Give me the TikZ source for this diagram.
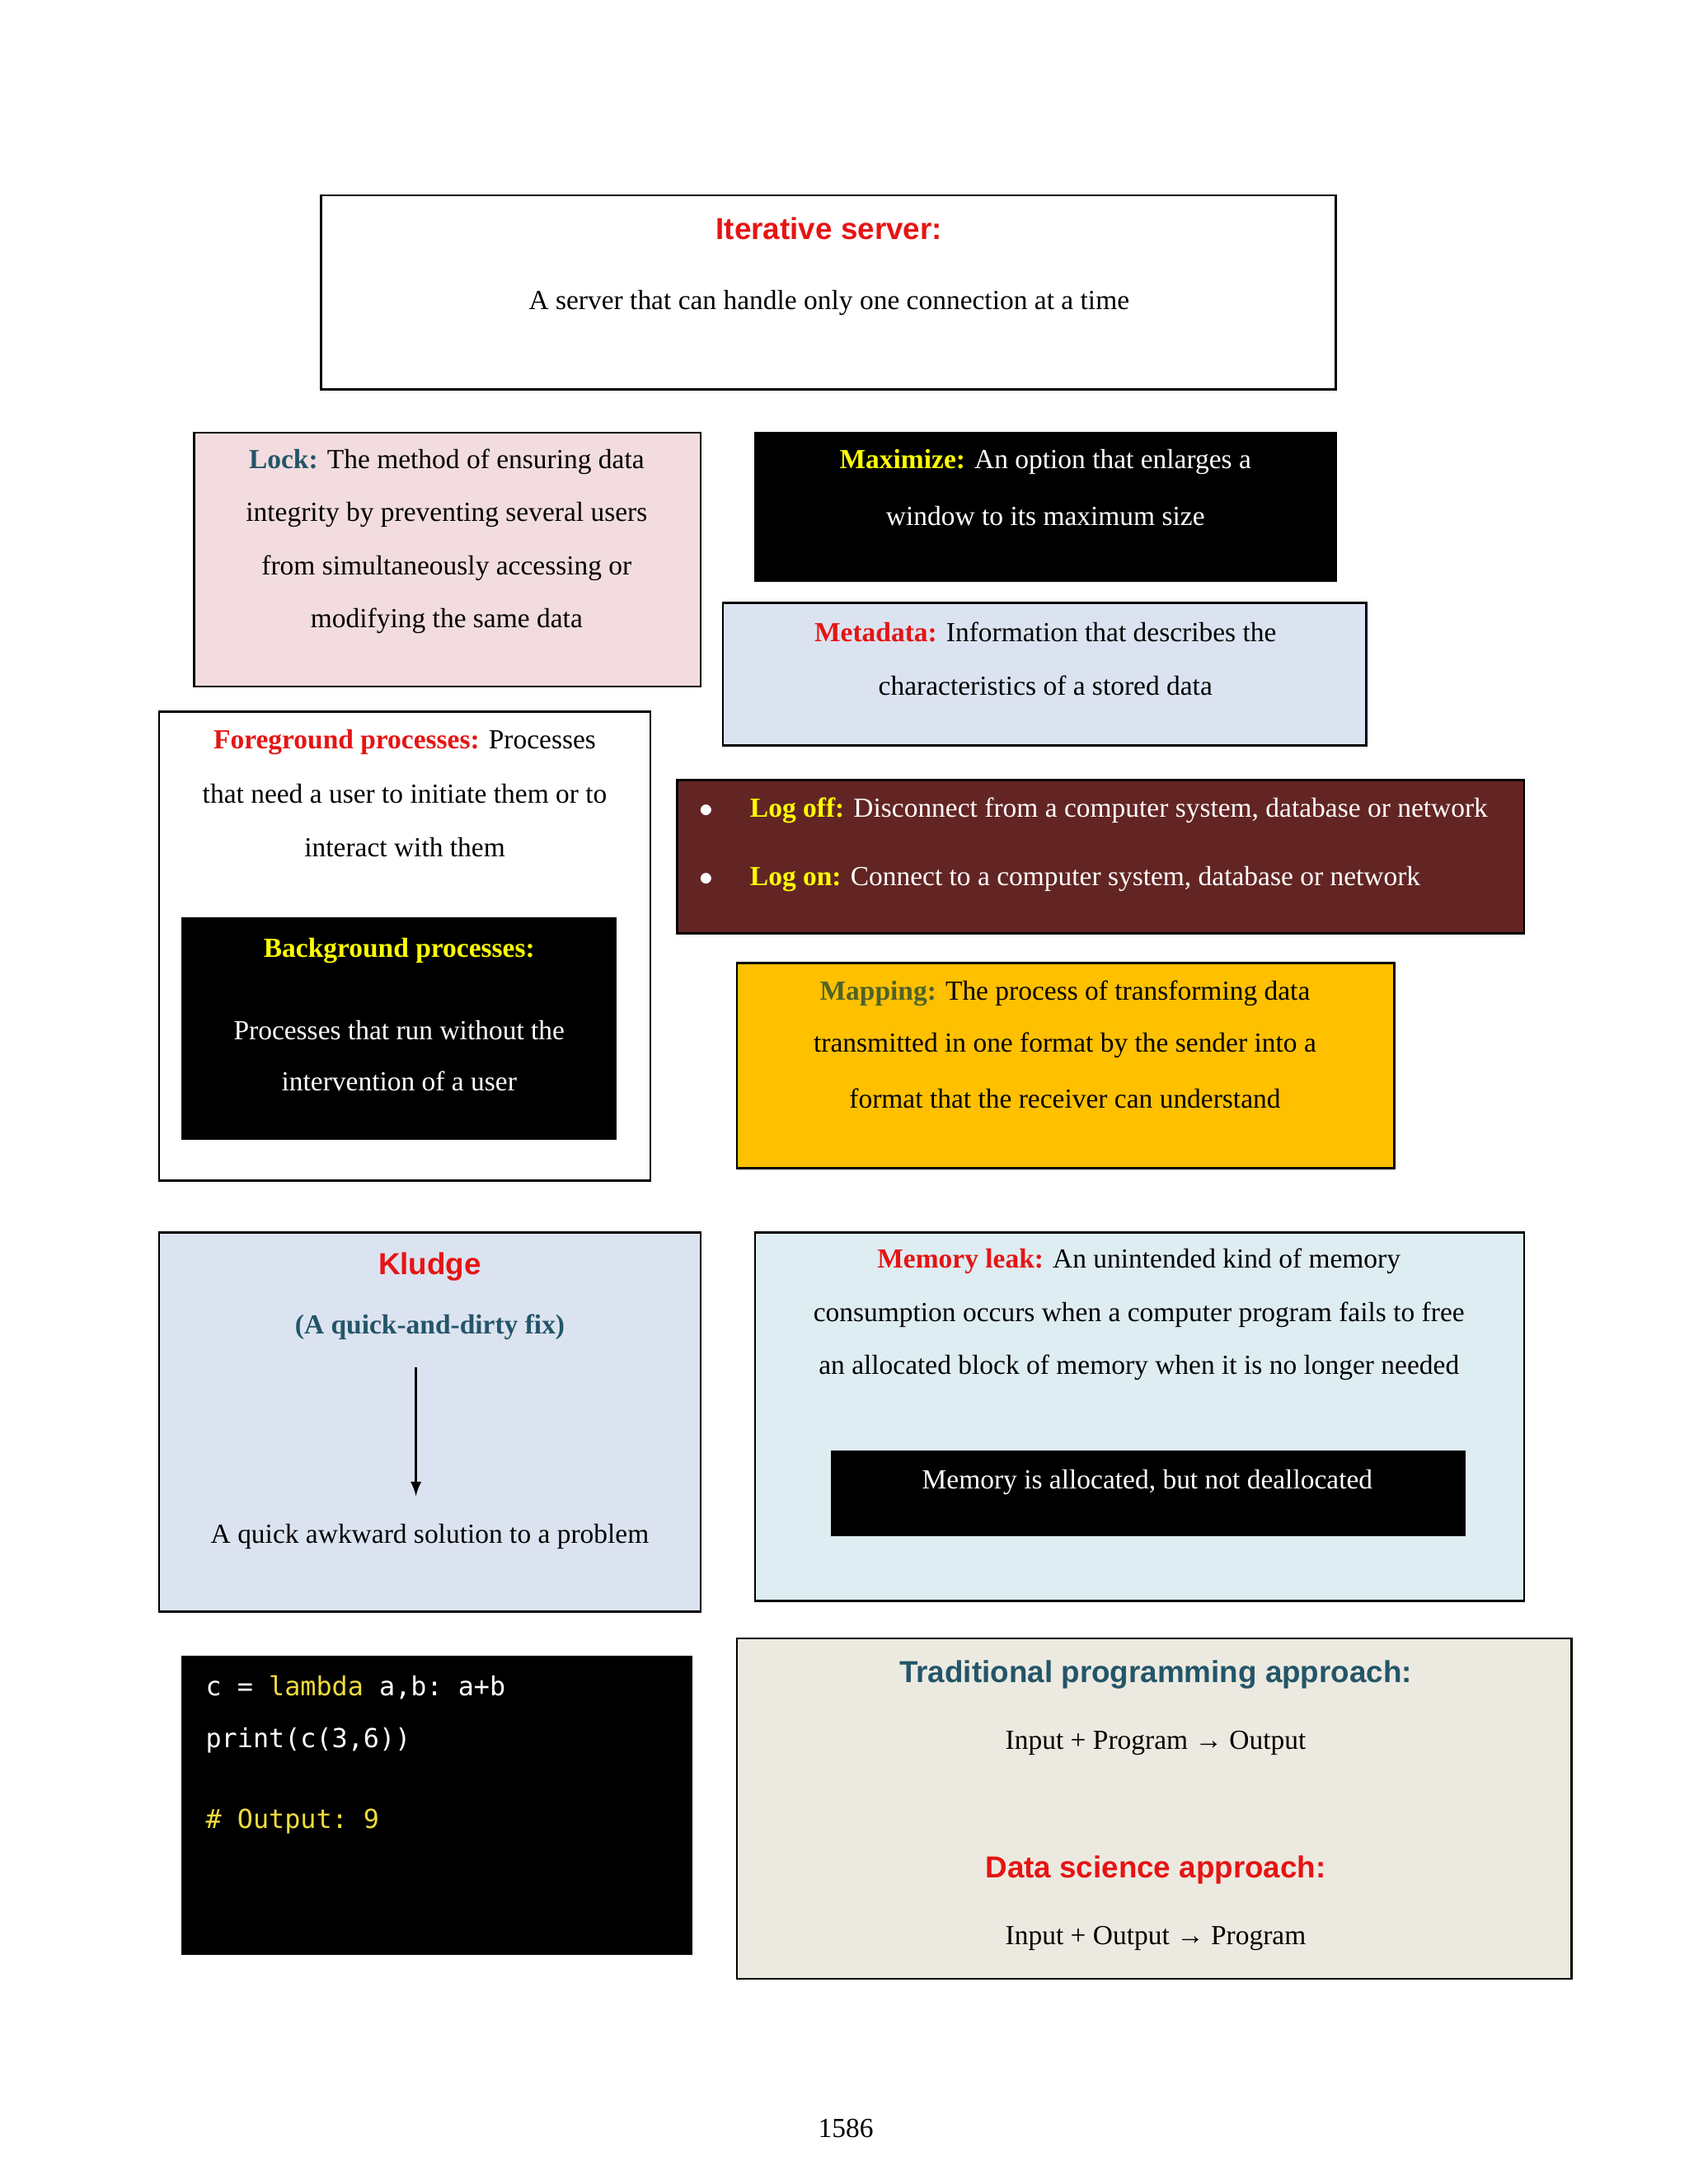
\documentclass[tikz,border=0pt]{standalone}
\usepackage{fontspec}
\setmainfont{Liberation Serif}
\setsansfont{Liberation Sans}
\setmonofont{DejaVu Sans Mono}
\definecolor{tred}{RGB}{230,20,20}
\definecolor{teal2}{RGB}{35,85,105}
\definecolor{yel}{RGB}{255,255,0}
\definecolor{pinkbg}{RGB}{242,220,223}
\definecolor{bluebg}{RGB}{220,227,240}
\definecolor{leakbg}{RGB}{222,237,242}
\definecolor{logbg}{RGB}{99,37,35}
\definecolor{mapbg}{RGB}{255,192,0}
\definecolor{olive}{RGB}{79,98,40}
\definecolor{tradbg}{RGB}{236,234,224}
\definecolor{codey}{RGB}{240,220,60}
\begin{document}
\begin{tikzpicture}[x=0.506pt,y=-0.506pt,
  box/.style={draw=black,line width=0.8pt},
  t/.style={font=\fontsize{10}{12}\selectfont,inner sep=0pt},
  hs/.style={font=\fontsize{11}{13}\sffamily\bfseries,inner sep=0pt},
  cd/.style={font=\fontsize{9.5}{11}\ttfamily,inner sep=0pt,anchor=west,text=white}]
\useasboundingbox (0,0) rectangle (1210,1565);
% Iterative
\draw[box,fill=white] (230,140) rectangle (957,279);
\node[hs,text=tred] (it1) at (594,164) {Iterative server:};
\node[t] (it2) at (594,217) {A server that can handle only one connection at a time};
% Lock
\draw[box,fill=pinkbg] (139,310) rectangle (502,492);
\node[t] (l1) at (320,331) {\textbf{\color{teal2}Lock:} The method of ensuring data};
\node[t] (l2) at (320,369) {integrity by preventing several users};
\node[t] (l3) at (320,407) {from simultaneously accessing or};
\node[t] (l4) at (320,445) {modifying the same data};
% Maximize
\draw[box,fill=black] (541,310) rectangle (957,416);
\node[t,text=white] (m1) at (749,331) {\textbf{\color{yel}Maximize:} An option that enlarges a};
\node[t,text=white] (m2) at (749,370) {window to its maximum size};
% Metadata
\draw[box,fill=bluebg] (518,432) rectangle (979,534);
\node[t] (md1) at (749,453) {\textbf{\color{tred}Metadata:} Information that describes the};
\node[t] (md2) at (749,491) {characteristics of a stored data};
% Foreground
\draw[box,fill=white] (114,510) rectangle (466,846);
\node[t] (f1) at (290,532) {\textbf{\color{tred}Foreground processes:} Processes};
\node[t] (f2) at (290,569) {that need a user to initiate them or to};
\node[t] (f3) at (290,607) {interact with them};
\draw[box,fill=black] (131,658) rectangle (441,816);
\node[t,text=yel] (b1) at (286,681) {\textbf{Background processes:}};
\node[t,text=white] (b2) at (286,738) {Processes that run without the};
\node[t,text=white] (b3) at (286,775) {intervention of a user};
% Log
\draw[box,fill=logbg] (485,559) rectangle (1092,669);
\node[t,text=white] (lg0) at (506,581) {$\bullet$};
\node[t,text=white] (lg0b) at (506,630) {$\bullet$};
\node[t,text=white,anchor=west] (lg1) at (537,581) {\textbf{\color{yel}Log off:} Disconnect from a computer system, database or network};
\node[t,text=white,anchor=west] (lg2) at (537,630) {\textbf{\color{yel}Log on:} Connect to a computer system, database or network};
% Mapping
\draw[box,fill=mapbg] (528,690) rectangle (999,837);
\node[t] (mp1) at (763,712) {\textbf{\color{olive}Mapping:} The process of transforming data};
\node[t] (mp2) at (763,749) {transmitted in one format by the sender into a};
\node[t] (mp3) at (763,787) {format that the receiver can understand};
% Kludge
\draw[box,fill=bluebg] (114,883) rectangle (502,1155);
\node[hs,text=tred] (k1) at (308,908) {Kludge};
\node[t,text=teal2] (k2) at (308,951) {\textbf{(A quick-and-dirty fix)}};
\coordinate (ka) at (298,980);
\coordinate (kb) at (298,1072);
\draw[-latex,line width=0.8pt] (ka) -- (kb);
\node[t] (k3) at (308,1101) {A quick awkward solution to a problem};
% Memory leak
\draw[box,fill=leakbg] (541,883) rectangle (1092,1147);
\node[t] (ml1) at (816,904) {\textbf{\color{tred}Memory leak:} An unintended kind of memory};
\node[t] (ml2) at (816,942) {consumption occurs when a computer program fails to free};
\node[t] (ml3) at (816,980) {an allocated block of memory when it is no longer needed};
\draw[box,fill=black] (596,1040) rectangle (1049,1100);
\node[t,text=white] (ml4) at (822,1062) {Memory is allocated, but not deallocated};
% Code
\draw[box,fill=black] (131,1187) rectangle (495,1400);
\node[cd] (c1) at (147,1209) {c = {\color{codey}lambda} a,b: a+b};
\node[cd] (c2) at (147,1247) {print(c(3,6))};
\node[cd,text=codey] (c3) at (147,1305) {\# Output: 9};
% Traditional
\draw[box,fill=tradbg] (528,1174) rectangle (1126,1418);
\node[hs,text=teal2] (tr1) at (828,1200) {Traditional programming approach:};
\node[t] (tr2) at (828,1249) {Input + Program → Output};
\node[hs,text=tred] (tr3) at (828,1340) {Data science approach:};
\node[t] (tr4) at (828,1389) {Input + Output → Program};
\node[t] (pg) at (606,1525) {1586};
\end{tikzpicture}
\end{document}
